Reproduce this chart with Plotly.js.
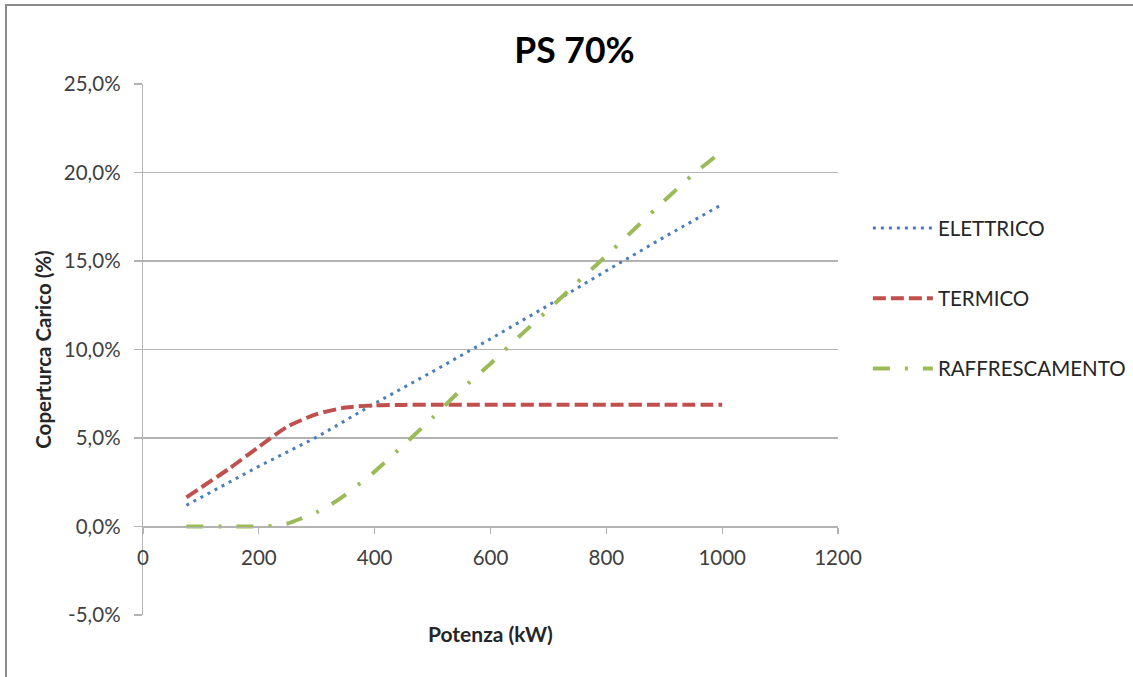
<!DOCTYPE html>
<html>
<head>
<meta charset="utf-8">
<script src="https://cdn.plot.ly/plotly-3.0.1.min.js"></script>
<style>
  html, body { margin: 0; padding: 0; background: #ffffff; }
  #frame { position: absolute; left: 5px; top: 4px; width: 1128px; height: 673px;
           border-top: 2px solid #8c8c8c; border-left: 2px solid #8c8c8c; }
  #chart { position: absolute; left: 0; top: 0; width: 1133px; height: 677px; }
</style>
</head>
<body>
<div id="frame"></div>
<div id="chart"></div>
<script>
// Potenza (kW) and load coverage (%) per service
const xElettrico = [75, 200, 300, 400, 500, 600, 700, 800, 900, 1000];
const yElettrico = [1.2, 3.4, 5.05, 6.95, 8.75, 10.6, 12.5, 14.45, 16.35, 18.2];

const xTermico = [75, 150, 200, 250, 300, 350, 400, 450, 500, 600, 700, 800, 900, 1000];
const yTermico = [1.65, 3.3, 4.5, 5.65, 6.35, 6.72, 6.84, 6.87, 6.88, 6.88, 6.88, 6.88, 6.88, 6.88];

const xRaffr = [75, 100, 150, 200, 225, 250, 275, 300, 325, 350, 375, 400, 450, 500, 550, 600, 650, 700, 750, 800, 850, 900, 950, 1000];
const yRaffr = [0, 0, 0, 0, 0.04, 0.17, 0.48, 0.8, 1.25, 1.8, 2.45, 3.1, 4.6, 6.15, 7.75, 9.2, 10.75, 12.25, 13.8, 15.3, 16.85, 18.4, 19.9, 21.2];

const seriesNames = ['ELETTRICO', 'TERMICO', 'RAFFRESCAMENTO'];
const xTicks = [0, 200, 400, 600, 800, 1000, 1200];
const yTicks = [-5, 0, 5, 10, 15, 20, 25];
const yTickLabels = ['-5,0%', '0,0%', '5,0%', '10,0%', '15,0%', '20,0%', '25,0%'];

const FONT = 'Lato, "Open Sans", sans-serif';
const GRID = '#b3b3b3';
const TICK_SIZE = 20.5;

const traces = [
  {
    x: xElettrico, y: yElettrico, name: seriesNames[0], mode: 'lines',
    legendgroup: 'a',
    line: { color: '#4a7ebb', width: 3, dash: '3px,5px' }
  },
  {
    x: xTermico, y: yTermico, name: seriesNames[1], mode: 'lines',
    legendgroup: 'b',
    line: { color: '#c0504d', width: 4, dash: '13px,5px', shape: 'spline', smoothing: 0.7 }
  },
  {
    x: xRaffr, y: yRaffr, name: seriesNames[2], mode: 'lines',
    legendgroup: 'c',
    line: { color: '#9bbb59', width: 4, dash: '17px,15px,3px,15px', shape: 'spline', smoothing: 0.5 }
  }
];

const layout = {
  width: 1133, height: 677,
  margin: { l: 143, r: 295, t: 84, b: 62, autoexpand: false },
  paper_bgcolor: 'rgba(0,0,0,0)',
  plot_bgcolor: '#ffffff',
  font: { family: FONT, size: TICK_SIZE, color: '#404040' },
  title: {
    text: '<b>PS 70%</b>',
    font: { family: FONT, size: 35.5, color: '#000000' },
    x: 0.507, xanchor: 'center', y: 0.925, yanchor: 'middle'
  },
  showlegend: true,
  legend: {
    x: 1.043, xanchor: 'left', y: 0.766, yanchor: 'top',
    traceorder: 'grouped', tracegroupgap: 40.5,
    itemwidth: 60,
    font: { family: FONT, size: TICK_SIZE, color: '#262626' },
    bgcolor: 'rgba(0,0,0,0)'
  },
  xaxis: {
    range: [0, 1200], tickvals: xTicks, ticktext: xTicks.map(String),
    anchor: 'free', position: 5 / 30,
    showgrid: false, zeroline: false,
    showline: true, linecolor: GRID, linewidth: 1.3,
    ticks: 'outside', ticklen: 6, tickcolor: GRID, tickwidth: 1.3,
    ticklabelstandoff: 7,
    tickfont: { family: FONT, size: TICK_SIZE, color: '#404040' }
  },
  yaxis: {
    range: [-5, 25], tickvals: yTicks, ticktext: yTickLabels,
    showgrid: true, gridcolor: GRID, gridwidth: 1.3,
    zeroline: false,
    showline: true, linecolor: GRID, linewidth: 1.3,
    ticks: 'outside', ticklen: 8, tickcolor: GRID, tickwidth: 1.3,
    ticklabelstandoff: 9,
    tickfont: { family: FONT, size: TICK_SIZE, color: '#404040' },
    title: { text: '<b>Coperturca Carico (%)</b>', font: { family: FONT, size: 20.5, color: '#262626' }, standoff: 6 }
  },
  annotations: [
    {
      text: '<b>Potenza (kW)</b>', xref: 'paper', yref: 'paper',
      x: 0.5, y: -0.035, xanchor: 'center', yanchor: 'middle', showarrow: false,
      font: { family: FONT, size: 21, color: '#262626' }
    }
  ]
};

Plotly.newPlot('chart', traces, layout, { displayModeBar: false, staticPlot: true });
</script>
</body>
</html>
